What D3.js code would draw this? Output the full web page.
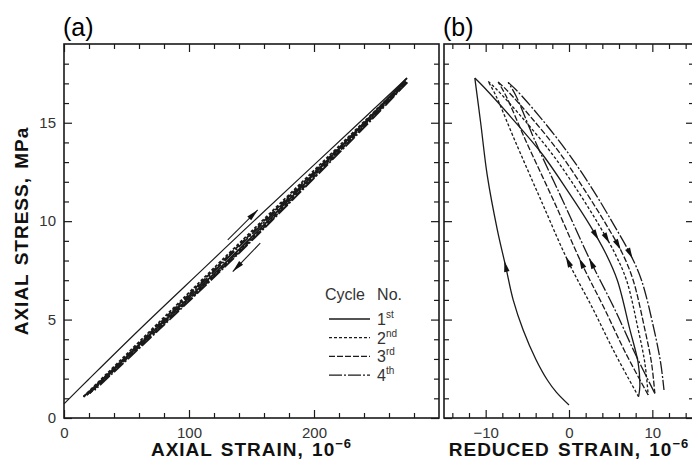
<!DOCTYPE html>
<html>
<head>
<meta charset="utf-8">
<script src="https://cdn.jsdelivr.net/npm/d3@7"></script>
<style>
body { margin: 0; background: #fff; }
svg { display: block; font-family: "Liberation Sans", Arial, Helvetica, sans-serif; }
</style>
</head>
<body>
<script>
//legend labels
var cycleNum = ["1", "2", "3", "4"];
var cycleSup = ["st", "nd", "rd", "th"];

//tick values
var stressMajor = [0, 5, 10, 15];
var stressMinor = [1,2,3,4,6,7,8,9,11,12,13,14,16,17,18];
var axialMajor = [0, 100, 200];
var axialMinor = [20,40,60,80,120,140,160,180,220,240,260,280];
var reducedMajor = [-10, 0, 10];
var reducedMinor = [-14,-12,-8,-6,-4,-2,2,4,6,8,12,14];

//panel (a): axial strain (1e-6), stress (MPa)
var load1A   = [[0,0.72],[19.2,1.93],[60.0,4.47],[113.5,7.7],[144.3,9.56],[204.1,13.1],[274.4,17.27]];
var unload1A = [[274.4,17.27],[244.8,15.3],[186.3,11.5],[137.0,8.37],[73.3,4.5],[24.7,1.6],[15.6,1.08]];
var load2A   = [[15.6,1.08],[87.8,5.6],[125.3,7.95],[224.7,14.1],[273.1,17.1]];
var unload2A = [[273.1,17.1],[246.1,15.3],[187.5,11.5],[138.1,8.37],[74.3,4.5],[18.3,1.17]];
var load3A   = [[18.3,1.17],[89.2,5.6],[125.5,7.87],[226.0,14.1],[273.8,17.07]];
var unload3A = [[273.8,17.07],[247.2,15.3],[188.4,11.5],[139.0,8.37],[75.1,4.5],[20.4,1.25]];
var load4A   = [[20.4,1.25],[90.4,5.6],[126.7,7.87],[227.1,14.1],[274.6,17.05]];
var unload4A = [[274.6,17.05],[248.3,15.3],[189.4,11.5],[139.9,8.37],[76.2,4.5],[24.5,1.42]];
var arrowUpA   = [[131,9.05],[155,10.57]];
var arrowDownA = [[157,8.88],[135,7.44]];

//panel (b): reduced strain (1e-6), stress (MPa)
var load1B   = [[0,0.66],[-1.5,1.3],[-2.6,1.93],[-4.0,3.0],[-5.5,4.47],[-6.7,6.0],[-7.6,7.7],[-8.6,9.56],[-9.8,12.3],[-10.6,15.0],[-11.3,17.27]];
var unload1B = [[-11.3,17.27],[-10.2,16.8],[-7.0,15.3],[-3.2,13.4],[-0.1,11.5],[2.5,9.8],[4.4,8.37],[5.8,7.0],[7.3,4.5],[8.3,2.8],[8.5,1.6],[8.35,1.08]];
var load2B   = [[8.35,1.08],[5.5,3.3],[2.8,5.6],[-0.1,7.95],[-3.3,11.0],[-6.5,14.1],[-8.8,16.4],[-9.7,17.1]];
var unload2B = [[-9.7,17.1],[-8.7,16.7],[-5.7,15.3],[-2.0,13.4],[1.1,11.5],[3.6,9.8],[5.5,8.37],[6.9,7.0],[8.3,4.5],[9.1,2.8],[9.5,1.17]];
var load3B   = [[9.5,1.17],[6.8,3.3],[4.2,5.6],[1.5,7.87],[-1.8,11.0],[-5.2,14.1],[-7.6,16.4],[-8.5,17.07]];
var unload3B = [[-8.5,17.07],[-7.5,16.67],[-4.6,15.3],[-1.0,13.4],[2.0,11.5],[4.5,9.8],[6.4,8.37],[7.7,7.0],[9.1,4.5],[9.9,2.8],[10.3,1.25]];
var load4B   = [[10.3,1.25],[7.9,3.3],[5.4,5.6],[2.7,7.87],[-0.7,11.0],[-4.1,14.1],[-6.4,16.4],[-7.3,17.05]];
var unload4B = [[-7.3,17.05],[-6.3,16.65],[-3.5,15.3],[0.0,13.4],[3.0,11.5],[5.4,9.8],[7.3,8.37],[8.7,7.0],[10.2,4.5],[11.0,2.8],[11.4,1.42]];
//stress where the direction arrows sit
var loadArrowStress   = [7.7, 7.95, 7.87, 7.87];
var unloadArrowStress = [9.3, 9.14, 8.8, 8.37];

var dashes = [null, "3,2", "6,2", "13,2,2,2"];
var ink = "#1a1a1a";

//create svg
var svg = d3.select("body").append("svg")
    .attr("width", 692)
    .attr("height", 459);

//scales
var y = d3.scaleLinear().domain([0, 19]).range([418, 44]);
var xA = d3.scaleLinear().domain([0, 300]).range([64, 439]);
var xB = d3.scaleLinear().domain([-15, 15]).range([444, 694]);

function styleAxis(g) {
    g.attr("font-size", 15).attr("font-family", null);
    g.selectAll(".domain").remove();
    g.selectAll("line").attr("stroke", ink).attr("stroke-width", 1.2);
    g.selectAll("text").attr("fill", "#333");
}

//inward ticks on all four sides, plus frame
function frame(x, major, minor, yLabels) {
    var g = svg.append("g");
    var x0 = x.range()[0], x1 = x.range()[1];
    g.append("g").attr("transform", "translate(0," + y(0) + ")")
        .call(d3.axisBottom(x).tickValues(minor).tickSize(-5).tickFormat("")).call(styleAxis);
    g.append("g").attr("transform", "translate(0," + y(0) + ")")
        .call(d3.axisBottom(x).tickValues(major).tickSize(-8).tickPadding(9)).call(styleAxis);
    g.append("g").attr("transform", "translate(0," + y(19) + ")")
        .call(d3.axisTop(x).tickValues(minor).tickSize(-5).tickFormat("")).call(styleAxis);
    g.append("g").attr("transform", "translate(0," + y(19) + ")")
        .call(d3.axisTop(x).tickValues(major).tickSize(-8).tickFormat("")).call(styleAxis);
    g.append("g").attr("transform", "translate(" + x0 + ",0)")
        .call(d3.axisLeft(y).tickValues(stressMinor).tickSize(-5).tickFormat("")).call(styleAxis);
    g.append("g").attr("transform", "translate(" + x0 + ",0)")
        .call(d3.axisLeft(y).tickValues(stressMajor).tickSize(-8).tickPadding(8)
            .tickFormat(yLabels ? null : "")).call(styleAxis);
    g.append("g").attr("transform", "translate(" + x1 + ",0)")
        .call(d3.axisRight(y).tickValues(stressMinor).tickSize(-5).tickFormat("")).call(styleAxis);
    g.append("g").attr("transform", "translate(" + x1 + ",0)")
        .call(d3.axisRight(y).tickValues(stressMajor).tickSize(-8).tickFormat("")).call(styleAxis);
    g.append("rect")
        .attr("x", x0).attr("y", y(19))
        .attr("width", x1 - x0).attr("height", y(0) - y(19))
        .attr("fill", "none").attr("stroke", ink).attr("stroke-width", 1.6);
}
frame(xA, axialMajor, axialMinor, true);
frame(xB, reducedMajor, reducedMinor, false);

//arrowhead centred on (px,py) pointing along ang
function head(g, px, py, ang, len, wid) {
    var c = Math.cos(ang), s = Math.sin(ang);
    var bx = px - c * len / 2, by = py - s * len / 2;
    var pts = [[px + c * len / 2, py + s * len / 2],
               [bx - s * wid / 2, by + c * wid / 2],
               [bx + s * wid / 2, by - c * wid / 2]];
    g.append("path").attr("d", "M" + pts.join("L") + "Z").attr("fill", "#111");
}

function headOnPath(g, node, yTarget) {
    var L = node.getTotalLength(), prev = node.getPointAtLength(0);
    for (var l = 0.5; l <= L; l += 0.5) {
        var p = node.getPointAtLength(l);
        if ((prev.y - yTarget) * (p.y - yTarget) <= 0) {
            var a = node.getPointAtLength(Math.max(0, l - 3));
            var b = node.getPointAtLength(Math.min(L, l + 3));
            head(g, p.x, p.y, Math.atan2(b.y - a.y, b.x - a.x), 11, 5.5);
            return;
        }
        prev = p;
    }
}

function drawCurve(g, x, pts, i, w) {
    var line = d3.line()
        .x(function(d) { return x(d[0]); })
        .y(function(d) { return y(d[1]); })
        .curve(d3.curveCatmullRom.alpha(0.5));
    return g.append("path")
        .datum(pts)
        .attr("d", line)
        .attr("fill", "none")
        .attr("stroke", ink)
        .attr("stroke-width", w)
        .attr("stroke-dasharray", dashes[i]);
}

//panel (a) curves
var ga = svg.append("g");
var loadsA = [load1A, load2A, load3A, load4A];
var unloadsA = [unload1A, unload2A, unload3A, unload4A];
for (var i = 3; i >= 0; i--) {
    drawCurve(ga, xA, unloadsA[i], i, 1.8);
    drawCurve(ga, xA, loadsA[i], i, i == 0 ? 1.2 : 1.8);
}
[arrowUpA, arrowDownA].forEach(function(a) {
    var p0 = [xA(a[0][0]), y(a[0][1])], p1 = [xA(a[1][0]), y(a[1][1])];
    var ang = Math.atan2(p1[1] - p0[1], p1[0] - p0[0]);
    ga.append("line")
        .attr("x1", p0[0]).attr("y1", p0[1]).attr("x2", p1[0]).attr("y2", p1[1])
        .attr("stroke", ink).attr("stroke-width", 1.1);
    head(ga, p1[0] - Math.cos(ang) * 6, p1[1] - Math.sin(ang) * 6, ang, 12, 5.5);
});

//panel (b) curves with direction arrows
var gb = svg.append("g");
var loadsB = [load1B, load2B, load3B, load4B];
var unloadsB = [unload1B, unload2B, unload3B, unload4B];
for (var i = 0; i < 4; i++) {
    var pl = drawCurve(gb, xB, loadsB[i], i, 1.3);
    var pu = drawCurve(gb, xB, unloadsB[i], i, 1.3);
    headOnPath(gb, pl.node(), y(loadArrowStress[i]));
    headOnPath(gb, pu.node(), y(unloadArrowStress[i]));
}

//legend
var lg = svg.append("g").attr("fill", "#333").attr("font-size", 16);
lg.append("text").attr("x", 325).attr("y", 300).text("Cycle");
lg.append("text").attr("x", 402).attr("y", 300).attr("text-anchor", "end").text("No.");
cycleNum.forEach(function(n, i) {
    var ly = 319 + i * 18.7;
    lg.append("line")
        .attr("x1", 329).attr("x2", 370).attr("y1", ly).attr("y2", ly)
        .attr("stroke", ink).attr("stroke-width", 1.3)
        .attr("stroke-dasharray", dashes[i]);
    var t = lg.append("text").attr("x", 377).attr("y", ly + 6).attr("font-size", 16).text(n);
    t.append("tspan").attr("font-size", 10).attr("dy", -7).text(cycleSup[i]);
});

//panel labels
svg.append("text").attr("x", 63).attr("y", 36).attr("font-size", 25).text("(a)");
svg.append("text").attr("x", 443).attr("y", 36).attr("font-size", 25).text("(b)");

//axis titles
function title(x, yy, rot, main) {
    var el = svg.append("text")
        .attr("x", x).attr("y", yy)
        .attr("text-anchor", "middle")
        .attr("font-weight", "bold")
        .attr("font-size", 19)
        .style("letter-spacing", "1px")
        .style("word-spacing", "2px")
        .attr("fill", "#111");
    if (rot) el.attr("transform", "rotate(-90)");
    el.append("tspan").text(main);
    return el;
}
title(-231, 28, true, "AXIAL STRESS, MPa");
title(251.5, 456, false, "AXIAL STRAIN, 10")
    .append("tspan").attr("font-size", 13).attr("dy", -8).text("\u22126");
title(569, 456, false, "REDUCED STRAIN, 10")
    .append("tspan").attr("font-size", 13).attr("dy", -8).text("\u22126");
</script>
</body>
</html>
